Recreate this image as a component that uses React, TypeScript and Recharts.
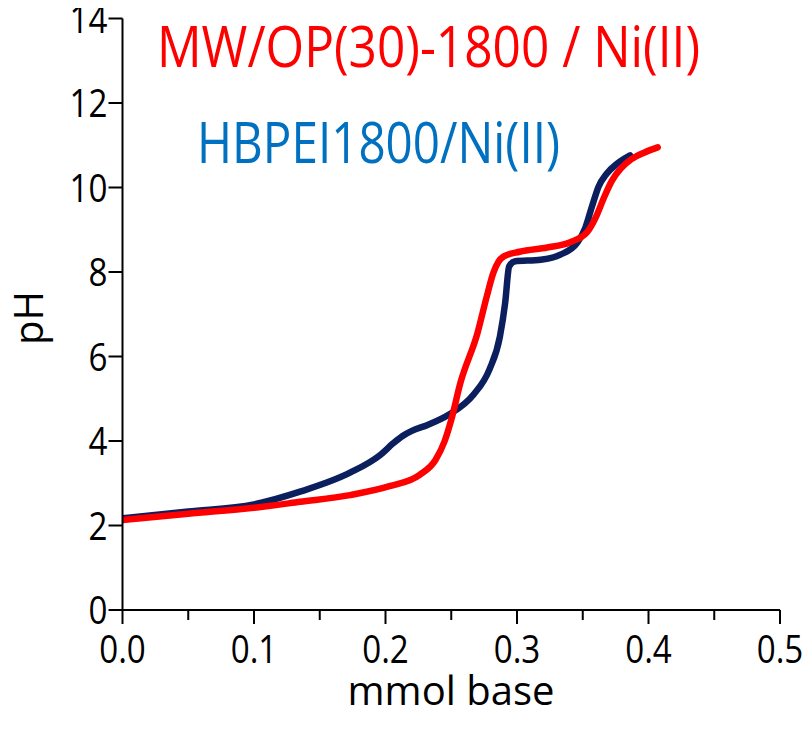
import React from 'react';
import { LineChart, Line, XAxis, YAxis, Customized } from 'recharts';

const xTicks = [0, 0.05, 0.1, 0.15, 0.2, 0.25, 0.3, 0.35, 0.4, 0.45, 0.5];
const yTicks = [0, 2, 4, 6, 8, 10, 12, 14];

const hbpeiX = [0, 0.05, 0.1, 0.135, 0.173, 0.196, 0.206, 0.213, 0.22, 0.232, 0.248, 0.267, 0.279, 0.287, 0.291, 0.294, 0.298, 0.318, 0.333, 0.346, 0.352, 0.357, 0.362, 0.368, 0.376, 0.386];
const hbpeiY = [2.17, 2.33, 2.5, 2.8, 3.25, 3.67, 3.95, 4.12, 4.24, 4.38, 4.62, 5.1, 5.69, 6.47, 7.27, 8.13, 8.25, 8.29, 8.41, 8.7, 9.05, 9.55, 10.02, 10.32, 10.56, 10.76];

const mwopX = [0, 0.05, 0.1, 0.135, 0.173, 0.203, 0.226, 0.238, 0.245, 0.25, 0.257, 0.27, 0.277, 0.282, 0.286, 0.29, 0.302, 0.323, 0.34, 0.353, 0.36, 0.366, 0.372, 0.379, 0.387, 0.397, 0.407];
const mwopY = [2.13, 2.28, 2.42, 2.56, 2.72, 2.93, 3.2, 3.55, 4.0, 4.5, 5.38, 6.56, 7.42, 7.98, 8.25, 8.37, 8.48, 8.58, 8.7, 8.93, 9.3, 9.75, 10.15, 10.45, 10.67, 10.83, 10.95];

const hbpeiData = hbpeiX.map((x, i) => ({ x, y: hbpeiY[i] }));
const mwopData = mwopX.map((x, i) => ({ x, y: mwopY[i] }));

const FONT = '"Open Sans", sans-serif';

const XTick = (props: any) => {
  const { x, y, payload } = props;
  const v = payload.value as number;
  const major = Math.abs(Math.round(v * 10) - v * 10) < 1e-6;
  return (
    <g>
      <line x1={x} y1={y} x2={x} y2={y + (major ? 14 : 10)} stroke="#000" strokeWidth={2} />
      {major && (
        <text
          x={0}
          y={0}
          transform={`translate(${x} ${y + 53}) scale(0.85 1)`}
          textAnchor="middle"
          fontSize={39}
          fontFamily={FONT}
          fill="#000"
        >
          {v.toFixed(1)}
        </text>
      )}
    </g>
  );
};

const YTick = (props: any) => {
  const { x, y, payload } = props;
  return (
    <g>
      <line x1={x - 14} y1={y} x2={x} y2={y} stroke="#000" strokeWidth={2} />
      <text
        x={0}
        y={0}
        transform={`translate(${x - 15} ${y + 14}) scale(0.85 1)`}
        textAnchor="end"
        fontSize={39}
        fontFamily={FONT}
        fill="#000"
      >
        {payload.value}
      </text>
    </g>
  );
};

const Annotations = () => (
  <g>
    <text x={149} y={59} fontSize={56} fontFamily={FONT} fill="#FF0000" textLength={543} lengthAdjust="spacingAndGlyphs">
      MW/OP(30)-1800 / Ni(II)
    </text>
    <text x={189} y={155} fontSize={56} fontFamily={FONT} fill="#0070C0" textLength={363} lengthAdjust="spacingAndGlyphs">
      HBPEI1800/Ni(II)
    </text>
    <text x={443} y={697} textAnchor="middle" fontSize={40} fontFamily={FONT} fill="#000">
      mmol base
    </text>
    <text x={0} y={0} transform="translate(35 310) rotate(-90)" textAnchor="middle" fontSize={40} fontFamily={FONT} fill="#000">
      pH
    </text>
  </g>
);

export default function App() {
  return (
    <LineChart width={804} height={723} margin={{ top: 10.5, right: 32, bottom: 0, left: 0 }}>
      <XAxis
        dataKey="x"
        type="number"
        domain={[0, 0.5]}
        ticks={xTicks}
        interval={0}
        allowDataOverflow
        height={121}
        tickSize={0}
        tickMargin={0}
        tickLine={false}
        tick={<XTick />}
        axisLine={{ stroke: '#000', strokeWidth: 2 }}
      />
      <YAxis
        dataKey="y"
        type="number"
        domain={[0, 14]}
        ticks={yTicks}
        interval={0}
        width={114.5}
        tickSize={0}
        tickMargin={0}
        tickLine={false}
        tick={<YTick />}
        axisLine={{ stroke: '#000', strokeWidth: 2 }}
      />
      <Line data={hbpeiData} dataKey="y" type="monotone" stroke="#0B1F5E" strokeWidth={6.5} dot={false} isAnimationActive={false} strokeLinecap="round" />
      <Line data={mwopData} dataKey="y" type="monotone" stroke="#FF0000" strokeWidth={6.5} dot={false} isAnimationActive={false} strokeLinecap="round" />
      <Customized component={<Annotations />} />
    </LineChart>
  );
}
